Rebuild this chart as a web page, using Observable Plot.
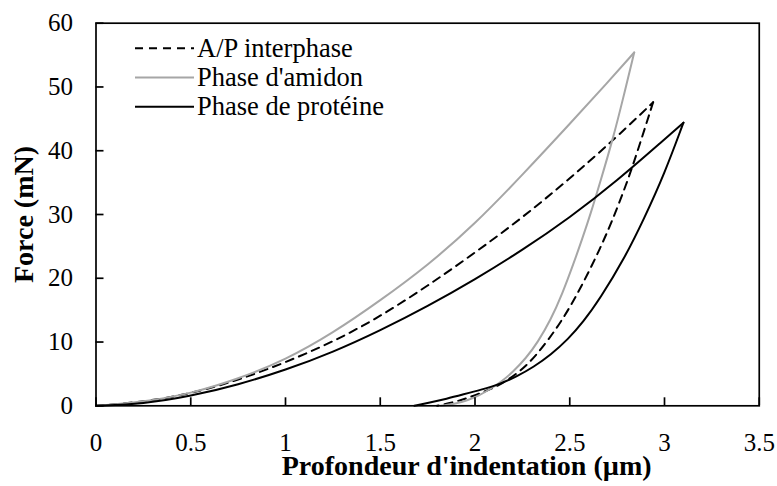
<!DOCTYPE html>
<html><head><meta charset="utf-8">
<script src="https://cdn.jsdelivr.net/npm/d3@7"></script>
<script src="https://cdn.jsdelivr.net/npm/@observablehq/plot@0.6"></script>
<style>
body{margin:0;background:#fff}
#wrap{position:relative;width:777px;height:486px}
#legend{position:absolute;left:0;top:0;pointer-events:none}
</style>
</head><body><div id="wrap"></div>
<script>
// Series names (legend order)
const seriesNames = ["A/P interphase", "Phase d'amidon", "Phase de protéine"];
const seriesColors = ["#000000", "#a6a6a6", "#000000"];
const seriesDash = ["8,6", null, null];

// A/P interphase : charge / décharge  [profondeur µm, force mN]
const apCharge = [[0,0],[0.25,0.6],[0.5,1.9],[0.75,4.0],[1.0,6.8],[1.25,10.0],[1.5,14.0],[1.75,18.8],[2.0,24.0],[2.25,29.5],[2.5,35.6],[2.75,42.2],[2.94,47.6]];
const apDecharge = [[2.94,47.6],[2.86,40.1],[2.8,34.8],[2.72,28.7],[2.65,24.0],[2.57,19.2],[2.5,15.4],[2.43,12.1],[2.33,8.1],[2.24,5.4],[2.14,3.4],[2.05,2.2],[1.95,1.1],[1.88,0.5],[1.8,0]];

// Phase d'amidon
const amidonCharge = [[0,0],[0.25,0.6],[0.5,1.9],[0.75,4.2],[1.0,7.2],[1.25,11.4],[1.5,16.5],[1.75,22.0],[2.0,28.5],[2.25,36.2],[2.5,44.2],[2.7,50.7],[2.84,55.4]];
const amidonDecharge = [[2.84,55.4],[2.78,48.0],[2.73,42.1],[2.66,35.0],[2.61,30.1],[2.565,26.1],[2.52,22.3],[2.46,17.5],[2.4,13.5],[2.33,9.9],[2.27,7.5],[2.2,5.3],[2.14,3.8],[2.08,2.6],[2.02,1.6],[1.96,0.85],[1.89,0.25],[1.82,0]];

// Phase de protéine
const proteineCharge = [[0,0],[0.25,0.3],[0.5,1.5],[0.75,3.3],[1.0,5.6],[1.25,8.4],[1.5,11.8],[1.75,15.6],[2.0,19.8],[2.25,24.4],[2.5,29.5],[2.75,35.3],[3.0,41.8],[3.1,44.4]];
const proteineDecharge = [[3.1,44.4],[3.0,36.4],[2.89,29.2],[2.79,23.2],[2.66,16.8],[2.57,13.1],[2.49,10.4],[2.4,8.0],[2.31,6.1],[2.22,4.6],[2.135,3.45],[2.03,2.5],[1.94,1.8],[1.85,1.1],[1.76,0.5],[1.68,0]];

// Axis ticks and titles
const xTicks = [0, 0.5, 1, 1.5, 2, 2.5, 3, 3.5];
const yTicks = [0, 10, 20, 30, 40, 50, 60];
const xTitle = "Profondeur d'indentation (µm)";
const yTitle = "Force (mN)";

const curves = [
  [apCharge, apDecharge],
  [amidonCharge, amidonDecharge],
  [proteineCharge, proteineDecharge]
];
function rowsFor(i) {
  const out = [];
  curves[i].forEach((seg, j) => seg.forEach(([x, y]) => out.push({x, y, part: j})));
  return out;
}

const font = "'Liberation Serif','Times New Roman',serif";
const lineMarks = seriesNames.map((name, i) =>
  Plot.line(rowsFor(i), {
    x: "x", y: "y", z: "part",
    stroke: seriesColors[i], strokeWidth: 2,
    strokeDasharray: seriesDash[i] || undefined,
    curve: "basis"
  })
);

const chart = Plot.plot({
  width: 777, height: 486,
  marginLeft: 95.5, marginRight: 18.25, marginTop: 22.7, marginBottom: 80.7,
  style: {fontFamily: font, fontSize: "25px", color: "#000", background: "#fff"},
  x: {domain: [0, 3.5]},
  y: {domain: [0, 60]},
  marks: [
    ...lineMarks,
    Plot.frame({stroke: "#000", strokeWidth: 1.7}),
    Plot.axisX({ticks: xTicks, tickSize: 8, dy: -8, tickFormat: () => "", label: null, strokeWidth: 1.7}),
    Plot.axisY({ticks: yTicks, tickSize: 8, dx: 8, tickFormat: () => "", label: null, strokeWidth: 1.7}),
    Plot.axisX({ticks: xTicks, tickSize: 0, tickPadding: 27.5, tickFormat: d => String(d), label: null, fontSize: 25, fontFamily: font}),
    Plot.axisY({ticks: yTicks, tickSize: 0, tickPadding: 23, tickFormat: d => String(d), label: null, fontSize: 25, fontFamily: font}),
    Plot.text([xTitle], {frameAnchor: "bottom", dy: 60.5, dx: 39, textAnchor: "middle", lineAnchor: "middle", text: d => d, fontSize: 28, fontWeight: "bold", fontFamily: font, fill: "#000"}),
    Plot.text([yTitle], {frameAnchor: "left", dx: -71.5, rotate: -90, textAnchor: "middle", lineAnchor: "middle", text: d => d, fontSize: 28, fontWeight: "bold", fontFamily: font, fill: "#000"})
  ]
});
// make sure the tick labels use the intended size
d3.select(chart).selectAll("g[aria-label$='tick label']")
  .attr("font-size", 25).style("font-size", "25px").style("font-family", font);

const wrap = document.getElementById("wrap");
wrap.appendChild(chart);

// Legend (inside plot area, top-left)
const leg = d3.select(wrap).append("svg").attr("id", "legend").attr("width", 777).attr("height", 486);
const legY = [48.3, 77.6, 106.7];
seriesNames.forEach((name, i) => {
  leg.append("line").attr("x1", 135).attr("x2", 194).attr("y1", legY[i]).attr("y2", legY[i])
    .attr("stroke", seriesColors[i]).attr("stroke-width", 2)
    .attr("stroke-dasharray", seriesDash[i]);
  leg.append("text").attr("x", 197).attr("y", legY[i]).attr("dy", "0.33em")
    .attr("font-family", font).attr("font-size", 26.5).attr("fill", "#000").text(name);
});
</script>
</body></html>
